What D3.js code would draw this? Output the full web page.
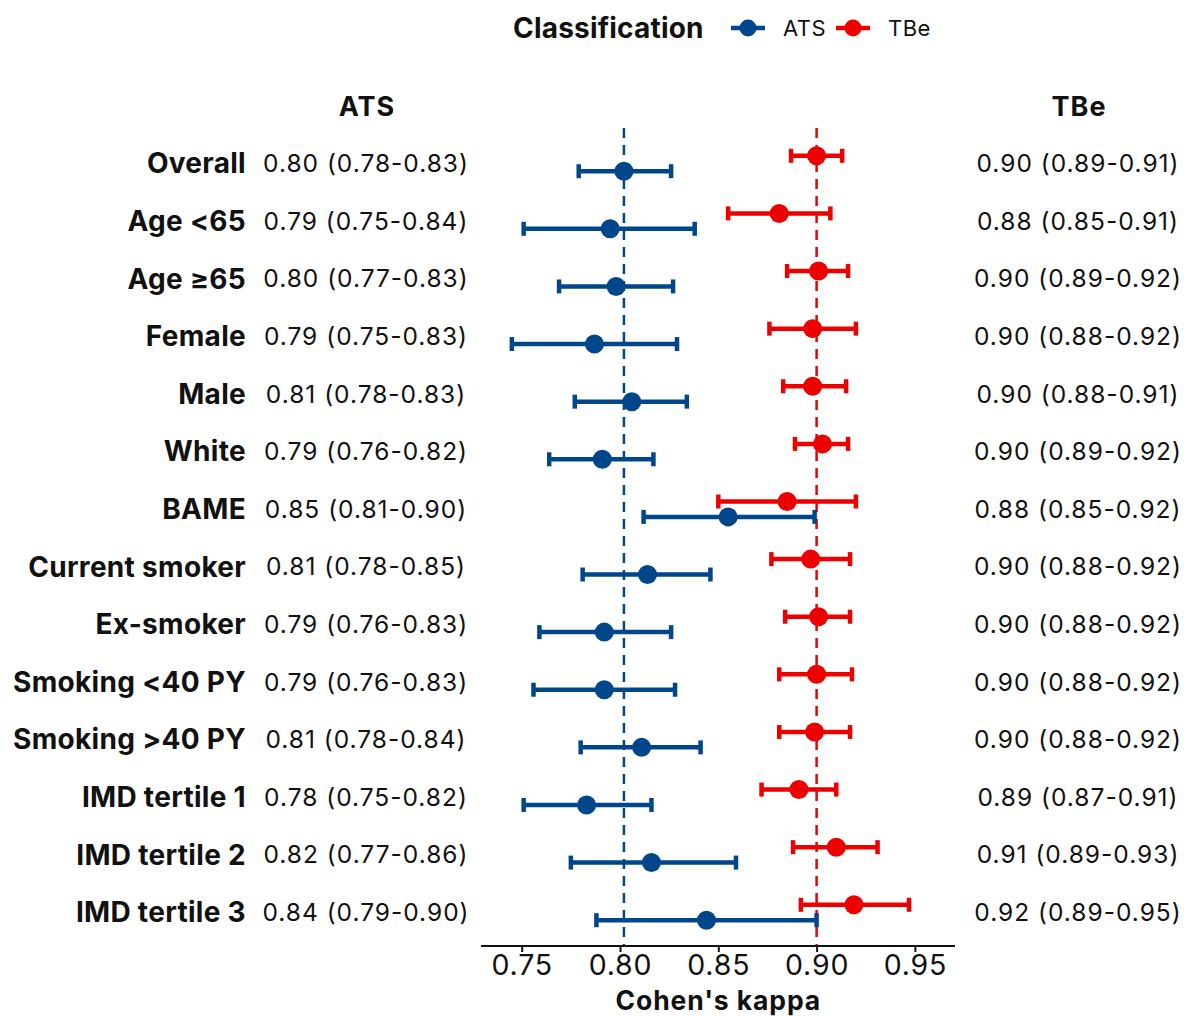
<!DOCTYPE html>
<html>
<head>
<meta charset="utf-8">
<script src="https://cdn.jsdelivr.net/npm/d3@7"></script>
<style>
  body { margin: 0; background: #fff; }
  text { font-family: Inter, "Noto Sans", sans-serif; fill: #111; }
</style>
</head>
<body>
<div id="chart"></div>
<script>
const groups = ["Overall", "Age <65", "Age \u226565", "Female", "Male", "White", "BAME",
    "Current smoker", "Ex-smoker", "Smoking <40 PY", "Smoking >40 PY",
    "IMD tertile 1", "IMD tertile 2", "IMD tertile 3"];

// point estimates and CI
const atsEst = [0.802, 0.795, 0.798, 0.787, 0.806, 0.791, 0.855, 0.814, 0.792, 0.792, 0.811, 0.783, 0.816, 0.844];
const atsLo  = [0.779, 0.751, 0.769, 0.745, 0.777, 0.764, 0.812, 0.781, 0.759, 0.756, 0.780, 0.751, 0.775, 0.788];
const atsHi  = [0.826, 0.838, 0.827, 0.829, 0.834, 0.817, 0.899, 0.846, 0.826, 0.828, 0.841, 0.816, 0.859, 0.900];
const tbeEst = [0.900, 0.881, 0.901, 0.898, 0.898, 0.903, 0.885, 0.897, 0.901, 0.900, 0.899, 0.891, 0.910, 0.919];
const tbeLo  = [0.887, 0.855, 0.885, 0.876, 0.883, 0.889, 0.850, 0.877, 0.884, 0.881, 0.881, 0.872, 0.888, 0.892];
const tbeHi  = [0.913, 0.907, 0.916, 0.920, 0.915, 0.916, 0.920, 0.917, 0.917, 0.918, 0.917, 0.910, 0.931, 0.947];

const atsText = ["0.80 (0.78-0.83)", "0.79 (0.75-0.84)", "0.80 (0.77-0.83)", "0.79 (0.75-0.83)",
    "0.81 (0.78-0.83)", "0.79 (0.76-0.82)", "0.85 (0.81-0.90)", "0.81 (0.78-0.85)",
    "0.79 (0.76-0.83)", "0.79 (0.76-0.83)", "0.81 (0.78-0.84)", "0.78 (0.75-0.82)",
    "0.82 (0.77-0.86)", "0.84 (0.79-0.90)"];
const tbeText = ["0.90 (0.89-0.91)", "0.88 (0.85-0.91)", "0.90 (0.89-0.92)", "0.90 (0.88-0.92)",
    "0.90 (0.88-0.91)", "0.90 (0.89-0.92)", "0.88 (0.85-0.92)", "0.90 (0.88-0.92)",
    "0.90 (0.88-0.92)", "0.90 (0.88-0.92)", "0.90 (0.88-0.92)", "0.89 (0.87-0.91)",
    "0.91 (0.89-0.93)", "0.92 (0.89-0.95)"];

const classes = ["ATS", "TBe"];
const colors = {ATS: "#00468B", TBe: "#ED0000"};
const overall = {ATS: atsEst[0], TBe: tbeEst[0]};
const xTicks = [0.75, 0.80, 0.85, 0.90, 0.95];

const W = 1190, H = 1017;
const svg = d3.select("#chart").append("svg")
    .attr("width", W).attr("height", H);

const x = d3.scaleLinear().domain([0.75, 0.95]).range([521.7, 914.9]);
const axisY = 946;
const y = d3.scalePoint().domain(groups).range([163.5, 912.5]);
const dodge = {ATS: 7.7, TBe: -7.7};

const rows = [];
groups.forEach((g, i) => {
    rows.push({group: g, cls: "ATS", est: atsEst[i], lo: atsLo[i], hi: atsHi[i]});
    rows.push({group: g, cls: "TBe", est: tbeEst[i], lo: tbeLo[i], hi: tbeHi[i]});
});

// reference lines at the overall estimates
classes.forEach(c => {
    svg.append("line")
        .attr("x1", x(overall[c])).attr("x2", x(overall[c]))
        .attr("y1", 128).attr("y2", axisY)
        .attr("stroke", colors[c]).attr("stroke-width", 2.5)
        .attr("stroke-dasharray", "10,7");
});

// error bars
const bars = svg.append("g").selectAll("g").data(rows).enter().append("g")
    .attr("stroke", d => colors[d.cls]).attr("stroke-width", 4.5);
bars.append("line")
    .attr("x1", d => x(d.lo)).attr("x2", d => x(d.hi))
    .attr("y1", d => y(d.group) + dodge[d.cls]).attr("y2", d => y(d.group) + dodge[d.cls]);
bars.append("line")
    .attr("x1", d => x(d.lo)).attr("x2", d => x(d.lo))
    .attr("y1", d => y(d.group) + dodge[d.cls] - 7).attr("y2", d => y(d.group) + dodge[d.cls] + 7);
bars.append("line")
    .attr("x1", d => x(d.hi)).attr("x2", d => x(d.hi))
    .attr("y1", d => y(d.group) + dodge[d.cls] - 7).attr("y2", d => y(d.group) + dodge[d.cls] + 7);

svg.append("g").selectAll("circle").data(rows).enter().append("circle")
    .attr("cx", d => x(d.est)).attr("cy", d => y(d.group) + dodge[d.cls])
    .attr("r", 9.5).attr("fill", d => colors[d.cls]);

// x axis
const axis = svg.append("g").attr("transform", `translate(0,${axisY})`)
    .call(d3.axisBottom(x).tickValues(xTicks).tickFormat(d3.format(".2f")).tickSize(6).tickPadding(3));
axis.select(".domain").remove();
axis.append("line").attr("x1", 481).attr("x2", 955).attr("stroke", "#111").attr("stroke-width", 2);
axis.selectAll(".tick line").attr("stroke", "#111").attr("stroke-width", 2);
axis.selectAll(".tick text").attr("font-size", 28.5).attr("fill", "#111")
    .attr("font-family", "Inter, sans-serif").attr("letter-spacing", 0.8);

svg.append("text").attr("x", x(0.85)).attr("y", 1010)
    .attr("text-anchor", "middle").attr("font-size", 26.5).attr("font-weight", 700)
    .attr("letter-spacing", 0.9).text("Cohen's kappa");

// row labels and estimate text
const lab = svg.append("g");
groups.forEach((g, i) => {
    lab.append("text").attr("x", 246).attr("y", y(g)).attr("dy", "0.35em")
        .attr("text-anchor", "end").attr("font-size", 28).attr("font-weight", 700)
        .attr("letter-spacing", 0.3).text(g);
    lab.append("text").attr("x", 366).attr("y", y(g)).attr("dy", "0.35em")
        .attr("text-anchor", "middle").attr("font-size", 24.5).attr("letter-spacing", 1)
        .text(atsText[i]);
    lab.append("text").attr("x", 1078).attr("y", y(g)).attr("dy", "0.35em")
        .attr("text-anchor", "middle").attr("font-size", 24.5).attr("letter-spacing", 1)
        .text(tbeText[i]);
});
svg.append("text").attr("x", 367).attr("y", 107).attr("dy", "0.35em")
    .attr("text-anchor", "middle").attr("font-size", 27).attr("font-weight", 700)
    .attr("letter-spacing", 1).text("ATS");
svg.append("text").attr("x", 1079).attr("y", 107).attr("dy", "0.35em")
    .attr("text-anchor", "middle").attr("font-size", 27).attr("font-weight", 700)
    .attr("letter-spacing", 1).text("TBe");

// legend
const leg = svg.append("g");
leg.append("text").attr("x", 513).attr("y", 28).attr("dy", "0.35em")
    .attr("font-size", 28).attr("font-weight", 700).attr("letter-spacing", 0.2).text("Classification");
const legX = {ATS: 731, TBe: 836};
classes.forEach(c => {
    const gx = legX[c];
    leg.append("line").attr("x1", gx).attr("x2", gx + 34).attr("y1", 28).attr("y2", 28)
        .attr("stroke", colors[c]).attr("stroke-width", 4.5);
    leg.append("circle").attr("cx", gx + 17).attr("cy", 28).attr("r", 8.5).attr("fill", colors[c]);
    leg.append("text").attr("x", gx + 52).attr("y", 28).attr("dy", "0.35em")
        .attr("font-size", 22).attr("letter-spacing", 0.5).text(c);
});
</script>
</body>
</html>
